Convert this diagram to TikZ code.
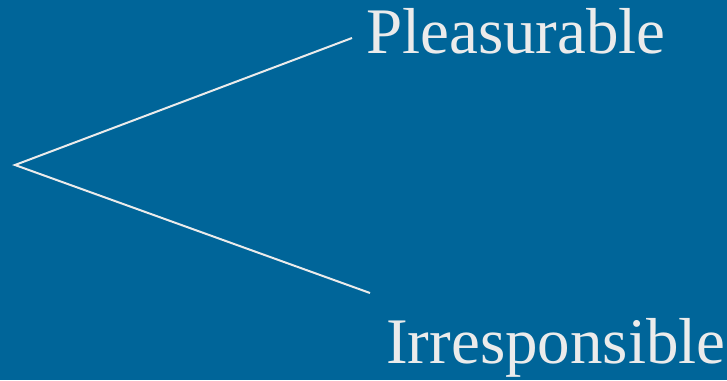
\documentclass[tikz,border=0pt]{standalone}
\usepackage{fontspec}
\setmainfont{Liberation Serif}
\newfontfamily\wordfont{Liberation Serif}
\definecolor{slideblue}{RGB}{0,101,153}
\definecolor{slidetext}{RGB}{235,235,235}
\begin{document}
\begin{tikzpicture}[x=1pt, y=-1pt,
    branch/.style={draw=slidetext, line width=2pt},
    word/.style={anchor=base west, inner sep=0pt, text=slidetext,
      font=\wordfont\fontsize{65}{65}\selectfont}]
  \fill[slideblue] (0,0) rectangle (727,380);
  \useasboundingbox (0,0) rectangle (727,380);
  % fork
  \coordinate (apex) at (15,165);
  \coordinate (upper) at (352,38);
  \coordinate (lower) at (370,293);
  \draw[branch] (upper) -- (apex) -- (lower);
  % labels
  \node[word] (pleas) at (366,53) {Pleasurable};
  \node[word] (irres) at (386,363) {Irresponsible};
\end{tikzpicture}
\end{document}
